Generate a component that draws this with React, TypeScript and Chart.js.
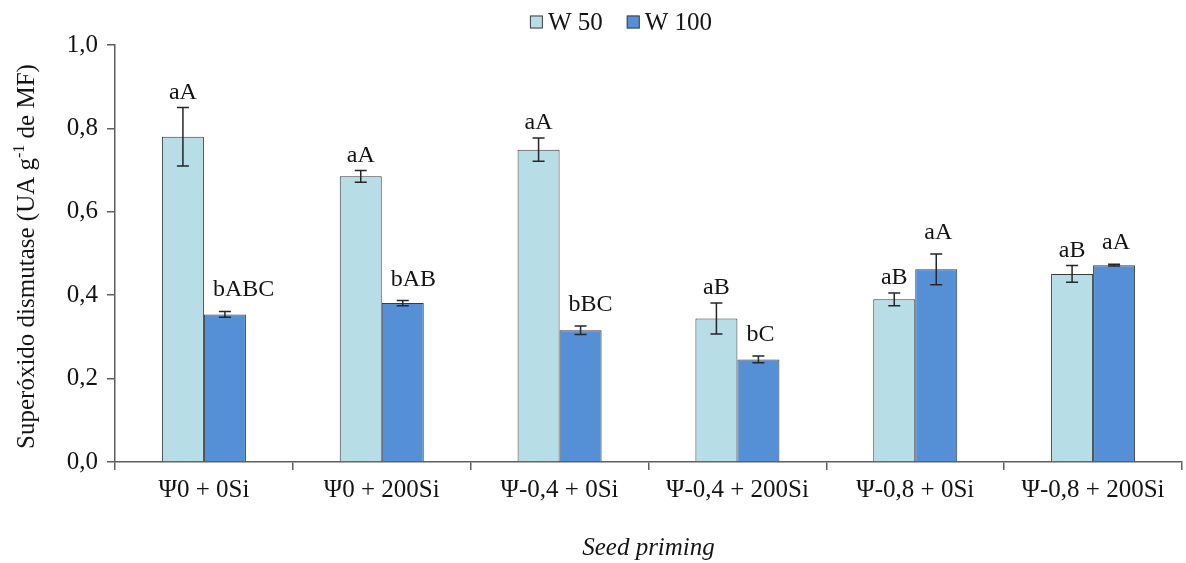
import React, { useEffect, useRef } from 'react';
import { Chart, registerables } from 'chart.js';

Chart.register(...registerables);

const categories = ['Ψ0 + 0Si', 'Ψ0 + 200Si', 'Ψ-0,4 + 0Si', 'Ψ-0,4 + 200Si', 'Ψ-0,8 + 0Si', 'Ψ-0,8 + 200Si'];
const seriesNames = ['W 50', 'W 100'];
const w50 = [0.780, 0.685, 0.749, 0.344, 0.390, 0.451];
const w50Err = [0.070, 0.014, 0.028, 0.037, 0.015, 0.020];
const w100 = [0.354, 0.381, 0.316, 0.246, 0.462, 0.472];
const w100Err = [0.007, 0.006, 0.010, 0.008, 0.037, 0.002];
const w50Letters = ['aA', 'aA', 'aA', 'aB', 'aB', 'aB'];
const w100Letters = ['bABC', 'bAB', 'bBC', 'bC', 'aA', 'aA'];
const yTickLabels = ['0,0', '0,2', '0,4', '0,6', '0,8', '1,0'];
const yTitleMain = 'Superóxido dismutase (UA g';
const yTitleSup = '-1';
const yTitleEnd = ' de MF)';
const xTitle = 'Seed priming';

const FONT = '"Liberation Serif", "Times New Roman", serif';
const TEXT = '#141414';
const AXIS = '#5f5f5f';
const LIGHT = '#b7dde6';
const DARK = '#5590d6';

const errors = [w50Err, w100Err];
const letters = [w50Letters, w100Letters];

const errorBarPlugin = {
  id: 'errorBars',
  afterDatasetsDraw(chart: any) {
    const ctx = chart.ctx;
    const yScale = chart.scales.y;
    chart.data.datasets.forEach((ds: any, di: number) => {
      const meta = chart.getDatasetMeta(di);
      meta.data.forEach((el: any, i: number) => {
        const v = ds.data[i];
        const e = errors[di][i];
        const yt = yScale.getPixelForValue(v + e);
        const yb = yScale.getPixelForValue(v - e);
        const x = el.x;
        ctx.save();
        ctx.strokeStyle = '#262626';
        ctx.lineWidth = 1.5;
        ctx.beginPath();
        ctx.moveTo(x, yt);
        ctx.lineTo(x, yb);
        ctx.moveTo(x - 6, yt);
        ctx.lineTo(x + 6, yt);
        ctx.moveTo(x - 6, yb);
        ctx.lineTo(x + 6, yb);
        ctx.stroke();
        ctx.restore();

        const txt = letters[di][i];
        ctx.save();
        ctx.font = `24px ${FONT}`;
        ctx.fillStyle = TEXT;
        ctx.textBaseline = 'alphabetic';
        ctx.textAlign = 'left';
        const w = ctx.measureText(txt).width;
        let left = x - w / 2;
        if (di === 1) {
          const barLeft = x - el.width / 2;
          left = Math.max(left, barLeft + 9);
        }
        const gap = di === 0 ? 9 : 15;
        ctx.fillText(txt, left, yt - gap);
        ctx.restore();
      });
    });
  },
};

const legendPlugin = {
  id: 'customLegend',
  afterDraw(chart: any) {
    const ctx = chart.ctx;
    ctx.save();
    ctx.font = `25px ${FONT}`;
    const box = 13;
    const gapBoxText = 5;
    const gapItems = 24;
    const items = chart.data.datasets.map((ds: any) => ({
      label: ds.label,
      color: ds.backgroundColor,
      w: ctx.measureText(ds.label).width,
    }));
    const total = items.reduce((s: number, it: any) => s + box + gapBoxText + it.w, 0) + gapItems * (items.length - 1);
    let x = 621 - total / 2;
    const cy = 22;
    items.forEach((it: any) => {
      ctx.fillStyle = it.color;
      ctx.fillRect(x, cy - box / 2, box, box);
      ctx.strokeStyle = '#404040';
      ctx.lineWidth = 1;
      ctx.strokeRect(x + 0.5, cy - box / 2 + 0.5, box - 1, box - 1);
      ctx.fillStyle = TEXT;
      ctx.textBaseline = 'middle';
      ctx.textAlign = 'left';
      ctx.fillText(it.label, x + box + gapBoxText, cy + 1);
      x += box + gapBoxText + it.w + gapItems;
    });
    ctx.restore();
  },
};

const yTitlePlugin = {
  id: 'yTitle',
  afterDraw(chart: any) {
    const ctx = chart.ctx;
    const area = chart.chartArea;
    ctx.save();
    const main = `25px ${FONT}`;
    const sup = `16px ${FONT}`;
    ctx.font = main;
    const w1 = ctx.measureText(yTitleMain).width;
    const w3 = ctx.measureText(yTitleEnd).width;
    ctx.font = sup;
    const w2 = ctx.measureText(yTitleSup).width;
    const total = w1 + w2 + w3;
    const cx = 27;
    const cy = (area.top + area.bottom) / 2 + 3;
    ctx.translate(cx, cy);
    ctx.rotate(-Math.PI / 2);
    ctx.fillStyle = TEXT;
    ctx.textBaseline = 'middle';
    ctx.textAlign = 'left';
    let x = -total / 2;
    ctx.font = main;
    ctx.fillText(yTitleMain, x, 0);
    x += w1;
    ctx.font = sup;
    ctx.fillText(yTitleSup, x, -7);
    x += w2;
    ctx.font = main;
    ctx.fillText(yTitleEnd, x, 0);
    ctx.restore();
  },
};

export default function App() {
  const ref = useRef<HTMLCanvasElement | null>(null);

  useEffect(() => {
    document.body.style.margin = '0';
    if (!ref.current) return;
    const chart = new Chart(ref.current, {
      type: 'bar',
      data: {
        labels: categories,
        datasets: [
          {
            label: seriesNames[0],
            data: w50,
            backgroundColor: LIGHT,
            borderColor: '#3a3a3a',
            borderWidth: 1,
            categoryPercentage: 0.4724,
            barPercentage: 1,
          },
          {
            label: seriesNames[1],
            data: w100,
            backgroundColor: DARK,
            borderColor: '#3a3a3a',
            borderWidth: 1,
            categoryPercentage: 0.4724,
            barPercentage: 1,
          },
        ],
      },
      options: {
        animation: false,
        responsive: false,
        maintainAspectRatio: false,
        layout: { padding: { top: 45, right: 4, left: 0, bottom: 0 } },
        plugins: {
          legend: { display: false },
          tooltip: { enabled: false },
        },
        scales: {
          x: {
            grid: {
              display: true,
              drawOnChartArea: false,
              drawTicks: true,
              tickLength: 8,
              color: AXIS,
              lineWidth: 1.5,
              offset: true,
            },
            border: { display: true, color: AXIS, width: 1.5 },
            ticks: {
              color: TEXT,
              font: { family: FONT, size: 25 },
              padding: 5,
              maxRotation: 0,
              autoSkip: false,
            },
            title: {
              display: true,
              text: xTitle,
              color: TEXT,
              font: { family: FONT, size: 25, style: 'italic' },
              padding: { top: 0, bottom: 0 },
            },
            afterFit(scale: any) {
              scale.height = 101;
            },
          },
          y: {
            min: 0,
            max: 1,
            grid: {
              display: true,
              drawOnChartArea: false,
              drawTicks: true,
              tickLength: 8,
              color: AXIS,
              lineWidth: 1.5,
            },
            border: { display: true, color: AXIS, width: 1.5 },
            ticks: {
              stepSize: 0.2,
              color: TEXT,
              font: { family: FONT, size: 25 },
              padding: 9,
              callback: (_v: any, i: number) => yTickLabels[i],
            },
            afterFit(scale: any) {
              scale.width = 115;
            },
          },
        },
      },
      plugins: [errorBarPlugin, legendPlugin, yTitlePlugin],
    });
    return () => chart.destroy();
  }, []);

  return (
    <div style={{ width: 1186, height: 563 }}>
      <canvas ref={ref} width={1186} height={563} style={{ display: 'block', width: 1186, height: 563 }} />
    </div>
  );
}
